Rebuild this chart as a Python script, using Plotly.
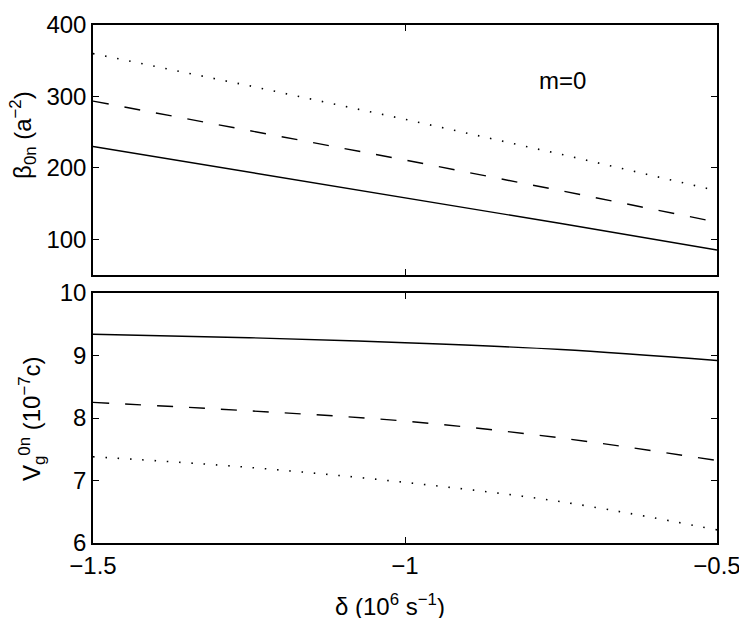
import plotly.graph_objects as go
from plotly.subplots import make_subplots

delta = [-1.5, -1.25, -1.0, -0.75, -0.5]

beta_solid = [230, 194, 159, 122, 85]
beta_dashed = [293.5, 252, 211, 168, 124]
beta_dotted = [360, 315, 268, 219, 168]

vg_solid = [9.34, 9.285, 9.205, 9.095, 8.92]
vg_dashed = [8.25, 8.115, 7.95, 7.68, 7.32]
vg_dotted = [7.38, 7.21, 6.97, 6.66, 6.21]

top_ticks = [100, 200, 300, 400]
bot_ticks = [6, 7, 8, 9, 10]
x_ticks = [-1.5, -1.0, -0.5]
x_ticktext = ["\u22121.5", "\u22121", "\u22120.5"]

fig = make_subplots(rows=2, cols=1, shared_xaxes=False, vertical_spacing=0.0)

styles = [("solid", 1.4), ("16px,16px", 1.4), ("1.5px,10.8px", 1.6)]

for vals, (dash, w) in zip([beta_solid, beta_dashed, beta_dotted], styles):
    fig.add_trace(go.Scatter(x=delta, y=vals, mode="lines",
                             line=dict(color="black", width=w, dash=dash),
                             showlegend=False), row=1, col=1)
for vals, (dash, w) in zip([vg_solid, vg_dashed, vg_dotted], styles):
    fig.add_trace(go.Scatter(x=delta, y=vals, mode="lines",
                             line=dict(color="black", width=w, dash=dash, shape="spline", smoothing=1.0),
                             showlegend=False), row=2, col=1)

font = dict(family="Liberation Sans, Arial, sans-serif", size=24, color="black")

axis_common = dict(showline=True, linecolor="black", linewidth=1.5, mirror="ticks",
                   ticks="inside", ticklen=6, tickwidth=1, tickcolor="black",
                   showgrid=False, zeroline=False, tickfont=font, automargin=False)

fig.update_xaxes(range=[-1.5, -0.5], tickvals=x_ticks, ticktext=x_ticktext, **axis_common)
fig.update_xaxes(showticklabels=False, row=1, col=1)
fig.update_yaxes(range=[50, 400], tickvals=top_ticks, **axis_common, row=1, col=1)
fig.update_yaxes(range=[6, 10], tickvals=bot_ticks, **axis_common, row=2, col=1)

title_font = dict(family=font["family"], size=24, color="black")

# the page body adds an 8px margin, so the figure is sized to fit the window
fig.update_layout(
    width=739, height=610,
    margin=dict(l=85, r=30, t=17, b=75),
    plot_bgcolor="white", paper_bgcolor="white",
    font=font,
    yaxis=dict(domain=[0.5174, 1.0]),
    yaxis2=dict(domain=[0.0, 0.4826]),
    annotations=[
        dict(text="m=0", x=-0.747, y=323, xref="x", yref="y",
             showarrow=False, font=title_font),
        dict(text="\u03b2<sub>0n</sub> (a<sup>\u22122</sup>)", x=-0.112, y=0.788,
             xref="paper", yref="paper", textangle=-90, showarrow=False,
             xanchor="center", yanchor="middle", font=title_font),
        dict(text="V<sub>g</sub><sup>0n</sup> (10<sup>\u22127</sup>c)", x=-0.098, y=0.241,
             xref="paper", yref="paper", textangle=-90, showarrow=False,
             xanchor="center", yanchor="middle", font=title_font),
        dict(text="\u03b4 (10<sup>6</sup> s<sup>\u22121</sup>)", x=0.476, y=-0.12,
             xref="paper", yref="paper", showarrow=False,
             xanchor="center", yanchor="middle", font=title_font),
    ],
)

fig.write_html("out.html")
